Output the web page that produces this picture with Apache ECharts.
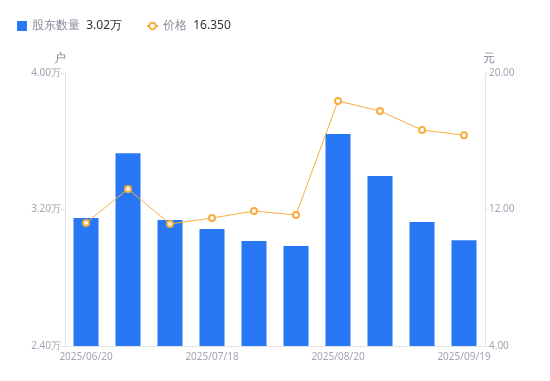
<!DOCTYPE html>
<html><head><meta charset="utf-8">
<script src="https://cdn.jsdelivr.net/npm/echarts@6/dist/echarts.min.js"></script>
<style>html,body{margin:0;padding:0;background:#fff}#c{width:550px;height:381px}</style>
</head><body><div id="c"></div>
<script>
const categories = ['2025/06/20','2025/06/30','2025/07/10','2025/07/18','2025/07/31','2025/08/10','2025/08/20','2025/08/31','2025/09/10','2025/09/19'];
const holders = [31500, 35300, 31380, 30860, 30150, 29860, 36420, 33960, 31270, 30200];
const prices = [11.21, 13.20, 11.15, 11.50, 11.91, 11.68, 18.36, 17.77, 16.66, 16.35];
const leftTicks = {min: 24000, max: 40000, interval: 8000};
const rightTicks = {min: 4, max: 20, interval: 8};

const chart = echarts.init(document.getElementById('c'));
const font = 'Noto Sans, sans-serif';
const lastH = holders[holders.length-1];
const lastP = prices[prices.length-1];
const rich = {a: {color: '#8a8a99', fontSize: 12, fontFamily: font}, b: {color: '#333', fontSize: 12, fontFamily: font}};
const orange = '#f8ad3e';
chart.setOption({
  animation: false,
  textStyle: {fontFamily: font},
  legend: [{
    left: 12, top: 15, itemWidth: 10, itemHeight: 10,
    data: [{name: '股东数量', icon: 'rect'}],
    formatter: n => '{a|' + n + '}  {b|' + (lastH/10000).toFixed(2) + '万}',
    textStyle: {rich: rich}
  }, {
    left: 141, top: 15, itemWidth: 11, itemHeight: 8,
    data: [{name: '价格'}],
    formatter: n => '{a|' + n + '}  {b|' + lastP.toFixed(3) + '}',
    textStyle: {rich: rich}
  }],
  grid: {left: 65, right: 65, top: 73, bottom: 35},
  xAxis: {
    type: 'category', data: categories,
    axisLine: {lineStyle: {color: '#e3e3ea'}},
    axisTick: {show: false},
    axisLabel: {color: '#a4a4b4', fontSize: 10, interval: 2, margin: 6}
  },
  yAxis: [{
    type: 'value', name: '户', min: leftTicks.min, max: leftTicks.max, interval: leftTicks.interval,
    nameTextStyle: {color: '#8a8a99', fontSize: 12, padding: [0, 10, 0, 0]}, nameGap: 8,
    axisLine: {show: true, lineStyle: {color: '#e3e3ea'}},
    axisTick: {show: true, length: 4, lineStyle: {color: '#e3e3ea'}},
    splitLine: {show: false},
    axisLabel: {color: '#a4a4b4', fontSize: 10, margin: 4, formatter: v => (v/10000).toFixed(2) + '万'}
  }, {
    type: 'value', name: '元', min: rightTicks.min, max: rightTicks.max, interval: rightTicks.interval,
    nameTextStyle: {color: '#8a8a99', fontSize: 12, padding: [0, 0, 0, 8]}, nameGap: 8,
    axisLine: {show: true, lineStyle: {color: '#e3e3ea'}},
    axisTick: {show: true, length: 4, lineStyle: {color: '#e3e3ea'}},
    splitLine: {show: false},
    axisLabel: {color: '#a4a4b4', fontSize: 10, margin: 4, formatter: v => v.toFixed(2)}
  }],
  series: [{
    name: '股东数量', type: 'bar', data: holders, barWidth: 25,
    itemStyle: {color: '#2878f5'}
  }, {
    name: '价格', type: 'line', yAxisIndex: 1, data: prices,
    symbol: 'emptyCircle', symbolSize: 6,
    lineStyle: {color: orange, width: 1},
    itemStyle: {color: orange, borderWidth: 2}
  }]
});
</script></body></html>
